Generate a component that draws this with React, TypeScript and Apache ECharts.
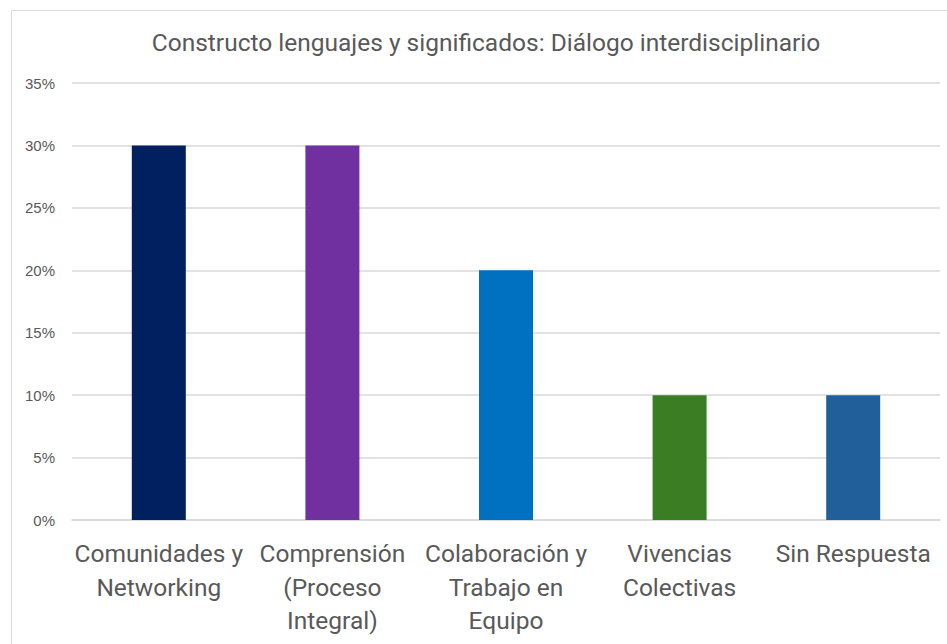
import React, { useEffect, useRef } from "react";
import * as echarts from "echarts";

const categories = [
  "Comunidades y\nNetworking",
  "Comprensión\n(Proceso\nIntegral)",
  "Colaboración y\nTrabajo en\nEquipo",
  "Vivencias\nColectivas",
  "Sin Respuesta",
];
const values = [0.3, 0.3, 0.2, 0.1, 0.1];
const barColors = ["#002060", "#7030A0", "#0070C0", "#3B7D23", "#215F9A"];
const titleText = "Constructo lenguajes y significados: Diálogo interdisciplinario";

const FONT = "Roboto, 'Liberation Sans', sans-serif";

export default function App() {
  const ref = useRef<HTMLDivElement>(null);
  useEffect(() => {
    document.body.style.margin = "0";
    const chart = echarts.init(ref.current!, null, { renderer: "svg" });
    chart.setOption({
      animation: false,
      backgroundColor: "#ffffff",
      title: {
        text: titleText,
        left: 481,
        top: 25,
        textAlign: "center",
        textStyle: { fontFamily: FONT, fontSize: 24.5, fontWeight: "normal", color: "#595959" },
      },
      graphic: [
        {
          type: "rect",
          shape: { x: 11.5, y: 10.5, width: 960, height: 660 },
          style: { fill: "none", stroke: "#d9d9d9", lineWidth: 1 },
          silent: true,
        },
      ],
      grid: { left: 72, right: 7, top: 83, bottom: 124, containLabel: false },
      xAxis: {
        type: "category",
        data: categories,
        axisLine: { show: true, lineStyle: { color: "#d9d9d9", width: 1.5 } },
        axisTick: { show: false },
        axisLabel: {
          interval: 0,
          margin: 17,
          fontFamily: FONT,
          fontSize: 24.5,
          lineHeight: 33.5,
          color: "#595959",
        },
      },
      yAxis: {
        type: "value",
        min: 0,
        max: 0.35,
        interval: 0.05,
        axisLine: { show: false },
        axisTick: { show: false },
        splitLine: { lineStyle: { color: "#d9d9d9", width: 1.5 } },
        axisLabel: {
          margin: 17,
          fontFamily: "'Liberation Sans', Arial, sans-serif",
          fontSize: 15,
          color: "#595959",
          formatter: (v: number) => Math.round(v * 100) + "%",
        },
      },
      series: [
        {
          type: "bar",
          data: values.map((v, i) => ({ value: v, itemStyle: { color: barColors[i] } })),
          barWidth: 54,
        },
      ],
    });
    return () => chart.dispose();
  }, []);
  return <div ref={ref} style={{ position: "absolute", left: 0, top: 0, width: 947, height: 644 }} />;
}
